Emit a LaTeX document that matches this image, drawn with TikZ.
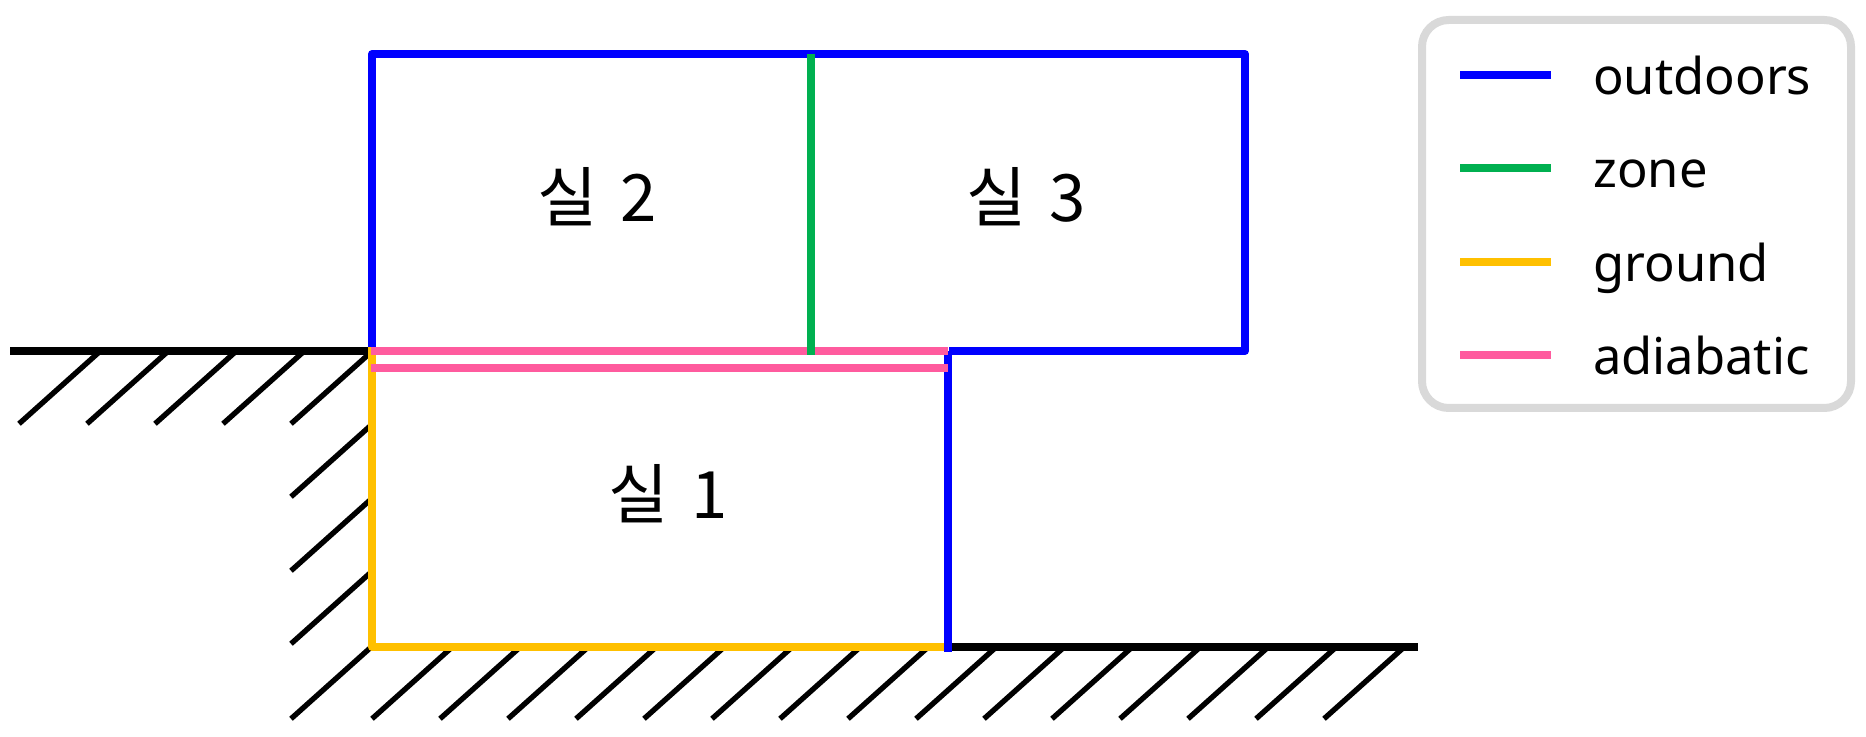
\documentclass[tikz,border=0pt]{standalone}
\usepackage{fontspec}
\setmainfont{Noto Sans}
\newfontfamily\krfont{Noto Sans CJK KR}
\usepackage{xcolor}
\usepackage{tikz}
\definecolor{wallblue}{HTML}{0000FF}
\definecolor{zonegreen}{HTML}{00B050}
\definecolor{groundamber}{HTML}{FFC000}
\definecolor{adiapink}{HTML}{FF5B9E}
\definecolor{legendgray}{HTML}{D9D9D9}

\begin{document}
\begin{tikzpicture}[
  x=0.75pt,y=-0.75pt,
  wall/.style={line width=6pt,line join=round},
  hatch/.style={line width=4pt,line cap=rect},
  soil/.style={line width=6pt,black},
  room/.style={font=\fontsize{49}{49}\krfont,inner sep=0pt},
  lgd/.style={font=\fontsize{38}{38}\selectfont,anchor=base west,inner sep=0pt},
]
\useasboundingbox (0,0) rectangle (1866,737);

% ground line and hatching
\draw[soil] (10,351) -- (372,351);
\draw[soil] (948,647) -- (1418,647);
\foreach \x in {21,89,157,225,293}
  \draw[hatch] (\x,422) -- ++(76,-68);
\foreach \y in {495,569,642}
  \draw[hatch] (293,\y) -- ++(76,-68);
\foreach \x in {293,374,442,510,578,646,714,782,850,918,986,1054,1122,1190,1258,1326}
  \draw[hatch] (\x,717) -- ++(76,-68);

% boundaries
\draw[wall,groundamber] (372,347) -- (372,647) -- (948,647);
\draw[wall,wallblue] (372,347) -- (372,54) -- (1245,54) -- (1245,351) -- (949,351);
\draw[wall,wallblue] (948,351) -- (948,652);
\draw[wall,adiapink] (371,351) -- (948,351);
\draw[wall,adiapink] (371,368) -- (948,368);
\draw[wall,zonegreen] (811,54) -- (811,355);

% rooms
\node[room] (room2) at (597,197) {실\hspace{0.13em} 2};
\node[room] (room3) at (1026,197) {실\hspace{0.13em} 3};
\node[room] (room1) at (668,494) {실\hspace{0.13em} 1};

% legend
\draw[line width=6pt,legendgray,rounded corners=20pt] (1422,20) rectangle (1851,408);
\foreach \c/\y/\t/\n in {wallblue/75/outdoors/out,zonegreen/168/zone/zon,groundamber/262/ground/gnd,adiapink/355/adiabatic/adi} {
  \coordinate (s\n) at (1460,\y);
  \coordinate (e\n) at (1551,\y);
  \draw[wall,\c] (s\n) -- (e\n);
  \node[lgd] (t\n) at (1593,\y+20) {\t};
}
\end{tikzpicture}
\end{document}
